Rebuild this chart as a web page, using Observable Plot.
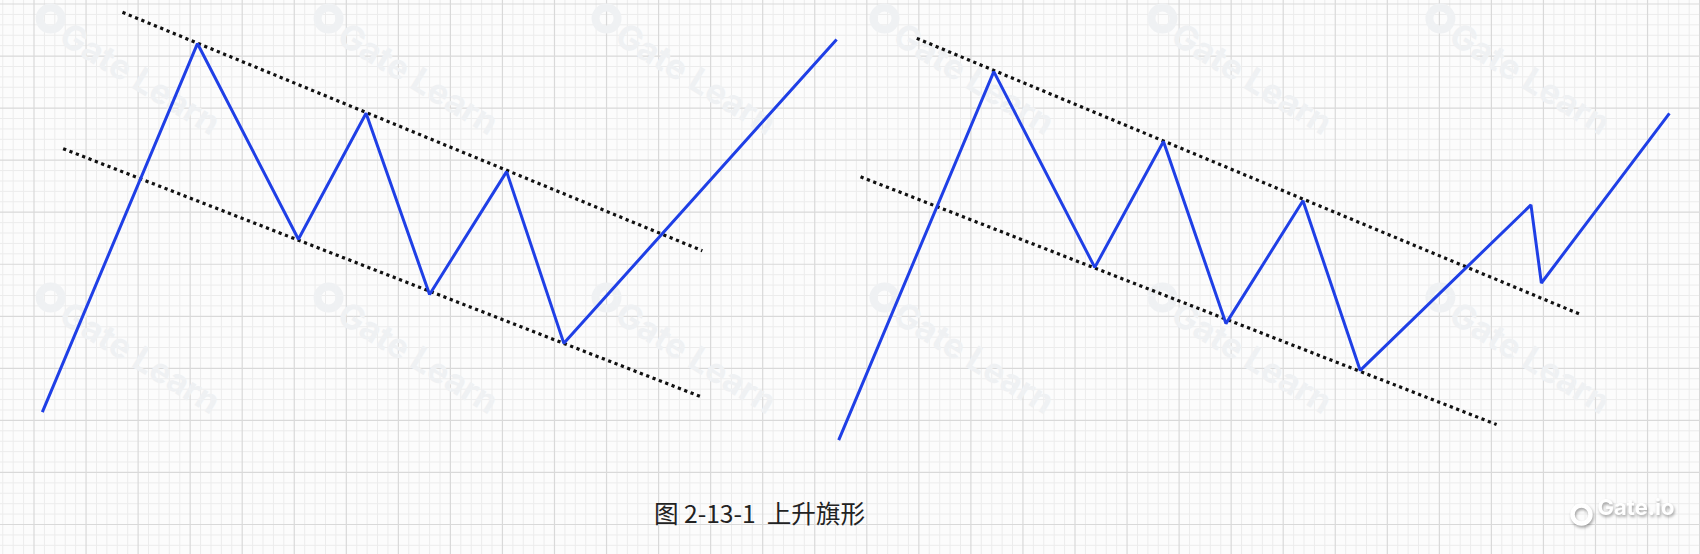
<!DOCTYPE html>
<html>
<head>
<meta charset="utf-8">
<script src="https://cdn.jsdelivr.net/npm/d3@7"></script>
<script src="https://cdn.jsdelivr.net/npm/@observablehq/plot@0.6"></script>
<style>
  html, body { margin: 0; padding: 0; background: #fcfcfc; }
  #chart { width: 1700px; height: 554px; overflow: hidden; }
</style>
</head>
<body>
<div id="chart"></div>
<script>
// ---- data (time units / price units; one unit = one minor grid cell) ----
const leftTime   = [0.8, 15.7, 25.4, 31.9, 38.0, 45.4, 50.9, 77.1];
const leftPrice  = [10.8, 46.2, 27.4, 39.5, 22.1, 33.9, 17.4, 46.6];
const rightTime  = [77.3, 92.2, 101.9, 108.5, 114.5, 121.9, 127.4, 143.8, 144.8, 157.1];
const rightPrice = [8.1, 43.5, 24.7, 36.8, 19.3, 31.1, 14.8, 30.7, 23.2, 39.5];

const leftUpperTime  = [8.5, 64.2];   const leftUpperPrice  = [49.2, 26.3];
const leftLowerTime  = [2.8, 64.0];   const leftLowerPrice  = [36.1, 12.3];
const rightUpperTime = [84.8, 148.5]; const rightUpperPrice = [46.7, 20.2];
const rightLowerTime = [79.4, 140.5]; const rightLowerPrice = [33.4, 9.6];

const caption = "图 2-13-1  上升旗形";
const watermarkText = "Gate Learn";
const watermarkTime  = [1.6, 28.3, 55.0, 81.7, 108.4, 135.1];
const watermarkPrice = [48.6, 21.8];
const brandText = "Gate.io";

// ---- scale setup ----
const W = 1700, H = 554;
const cell = 10.41;           // px per unit
const originX = 33.5, originY = 524;
const xDomain = [-originX / cell, (W - originX) / cell];
const yDomain = [(originY - H) / cell, originY / cell];

const minorX = d3.range(-3, 161).filter(v => v % 5 !== 0);
const majorX = d3.range(0, 161, 5);
const minorY = d3.range(-2, 51).filter(v => v % 5 !== 0);
const majorY = d3.range(0, 51, 5);

const toPts = (ts, ps) => ts.map((t, i) => ({t, p: ps[i]}));
const left = toPts(leftTime, leftPrice);
const right = toPts(rightTime, rightPrice);
const trends = [
  toPts(leftUpperTime, leftUpperPrice),
  toPts(leftLowerTime, leftLowerPrice),
  toPts(rightUpperTime, rightUpperPrice),
  toPts(rightLowerTime, rightLowerPrice)
];
const wm = [];
for (const p of watermarkPrice) for (const t of watermarkTime) wm.push({t, p});

const blue = "#1f3fe6";
const wmColor = "#eff1f3";

const marks = [
  Plot.ruleX(minorX, {stroke: "#ececec", strokeWidth: 1}),
  Plot.ruleY(minorY, {stroke: "#ececec", strokeWidth: 1}),
  Plot.ruleX(majorX, {stroke: "#d9d9d9", strokeWidth: 1.2}),
  Plot.ruleY(majorY, {stroke: "#d9d9d9", strokeWidth: 1.2}),
  // watermarks
  Plot.dot(wm, {x: "t", y: "p", r: 11, stroke: wmColor, strokeWidth: 8, fill: "none"}),
  Plot.text(wm, {x: "t", y: "p", text: () => watermarkText, rotate: 31.5, textAnchor: "start",
    dx: 12, dy: 14, fill: wmColor, fontSize: 34, fontWeight: "bold", fontFamily: "Inter, Lato, sans-serif"}),
  // trend channels
  ...trends.map(tr => Plot.line(tr, {x: "t", y: "p", stroke: "#111", strokeWidth: 3.2,
    strokeDasharray: "3.2 3.6", strokeLinecap: "butt"})),
  // price paths
  Plot.line(left, {x: "t", y: "p", stroke: blue, strokeWidth: 3, strokeLinejoin: "miter", strokeLinecap: "butt"}),
  Plot.line(right, {x: "t", y: "p", stroke: blue, strokeWidth: 3, strokeLinejoin: "miter", strokeLinecap: "butt"}),
  // caption
  Plot.text([caption], {frameAnchor: "bottom-left", dx: 759, dy: -32, text: d => d, textAnchor: "middle",
    fontSize: 24.6, fill: "#222", fontFamily: "'Noto Sans CJK SC', sans-serif"}),
  // brand
  Plot.dot([0], {frameAnchor: "bottom-left", dx: 1581, dy: -40, r: 9, stroke: "#ffffff", strokeWidth: 4.5, fill: "none"}),
  Plot.text([brandText], {frameAnchor: "bottom-left", dx: 1597, dy: -40, text: d => d, textAnchor: "start",
    fontSize: 22, fontWeight: "bold", fill: "#ffffff", fontFamily: "Inter, 'Open Sans', sans-serif"})
];

const chart = Plot.plot({
  width: W, height: H,
  marginTop: 0, marginRight: 0, marginBottom: 0, marginLeft: 0,
  x: {domain: xDomain, range: [0, W], axis: null},
  y: {domain: yDomain, range: [H, 0], axis: null},
  style: {background: "#fcfcfc", overflow: "hidden"},
  marks
});
d3.select(chart).selectAll("text").filter(function() { return this.textContent === brandText; })
  .style("filter", "drop-shadow(1px 2px 1.5px rgba(0,0,0,0.35))");
d3.select(chart).selectAll("circle").filter(function() { return d3.select(this).attr("stroke") === "#ffffff" || this.parentNode.getAttribute("stroke") === "#ffffff"; })
  .style("filter", "drop-shadow(1px 2px 1.5px rgba(0,0,0,0.35))");
document.getElementById("chart").appendChild(chart);
</script>
</body>
</html>
